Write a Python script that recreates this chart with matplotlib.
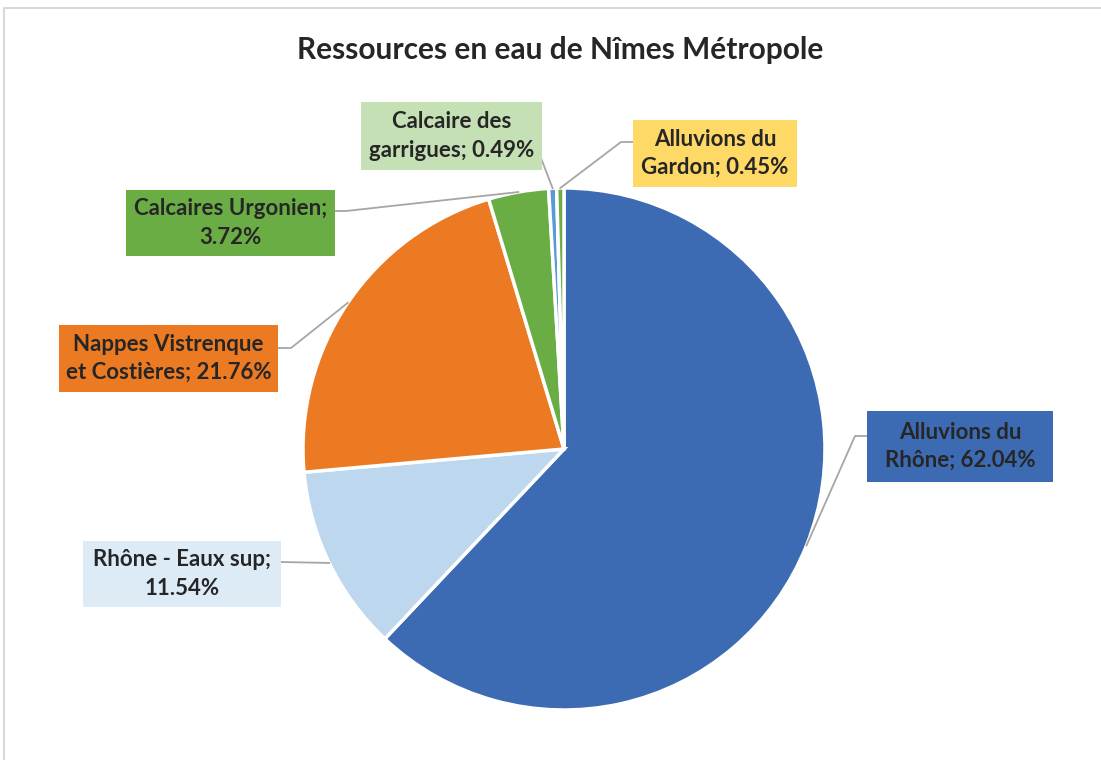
import matplotlib
matplotlib.use("Agg")
import matplotlib.pyplot as plt
from matplotlib.patches import Rectangle
import numpy as np

# ---- data ----
categories = ["Alluvions du Rhône", "Rhône - Eaux sup", "Nappes Vistrenque et Costières",
              "Calcaires Urgonien", "Calcaire des garrigues", "Alluvions du Gardon"]
values = [62.04, 11.54, 21.76, 3.72, 0.49, 0.45]
label_texts = ["Alluvions du\nRhône; 62.04%", "Rhône - Eaux sup;\n11.54%",
               "Nappes Vistrenque\net Costières; 21.76%", "Calcaires Urgonien;\n3.72%",
               "Calcaire des\ngarrigues; 0.49%", "Alluvions du\nGardon; 0.45%"]
title = "Ressources en eau de Nîmes Métropole"

# ---- styles ----
slice_colors = ["#3D6BB3", "#BDD7EE", "#EC7A23", "#6AAD45", "#5B9BD5", "#70AD47"]
box_colors = ["#3D6BB3", "#DDEBF7", "#EC7A23", "#6AAD45", "#C5E0B4", "#FFD966"]
# box rectangles in pixel coords (x0, y0_top, x1, y1_bottom)
boxes = [(867, 411, 1053, 482), (83, 541, 281, 607), (59, 325, 278, 392),
         (126, 190, 335, 256), (361, 102, 542, 170), (633, 120, 797, 187)]
# leader line start + elbow (pixel coords)
leaders = [[(867, 436), (855, 436)], [(281, 562)], [(278, 348), (291, 348)],
           [(335, 211), (346, 211)], [(541, 158)], [(633, 142), (621, 142)]]

W, H = 1101, 760
fig = plt.figure(figsize=(W / 100, H / 100), dpi=100)
ax = fig.add_axes([0, 0, 1, 1])

def py(y):
    return H - y

cx, cy, r = 564, 449, 261
ax.pie(values, colors=slice_colors, startangle=90, counterclock=False,
       center=(cx, py(cy)), radius=r, frame=True,
       wedgeprops=dict(edgecolor="white", linewidth=2.5))
ax.set_xlim(0, W)
ax.set_ylim(0, H)
ax.axis("off")
ax.set_aspect("auto")

# frame border
ax.plot([4, 4, W + 5], [py(H + 5), py(8), py(8)], color="#D9D9D9", lw=1.5, clip_on=False)

ax.text(560, py(50), title, ha="center", va="center", fontsize=21.5,
        fontweight="bold", color="#262626", family="Lato")

vals = np.array(values)
cum = np.cumsum(vals) - vals / 2
total = vals.sum()
for i, (lab, bc, bx, ld) in enumerate(zip(label_texts, box_colors, boxes, leaders)):
    x0, y0, x1, y1 = bx
    ax.add_patch(Rectangle((x0, py(y1)), x1 - x0, y1 - y0, facecolor=bc,
                           edgecolor="none", zorder=3))
    ax.text((x0 + x1) / 2, py((y0 + y1) / 2), lab, ha="center", va="center",
            fontsize=16, fontweight="bold", color="#262626", family="Lato",
            linespacing=1.42, zorder=4)
    th = np.deg2rad(cum[i] / total * 360)
    ex, ey = cx + r * np.sin(th), cy - r * np.cos(th)
    pts = ld + [(ex, ey)]
    ax.plot([p[0] for p in pts], [py(p[1]) for p in pts], color="#A6A6A6",
            lw=1.3, zorder=2)

fig.savefig("out.png", dpi=100)
